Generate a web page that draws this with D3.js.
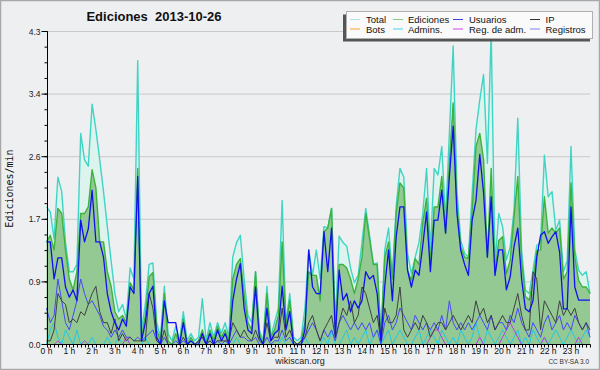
<!DOCTYPE html>
<html>
<head>
<meta charset="utf-8">
<script src="https://cdn.jsdelivr.net/npm/d3@7/dist/d3.min.js"></script>
<style>
  body { margin: 0; background: #fff; }
</style>
</head>
<body>
<div id="app"></div>
<script>
// ediciones por minuto, pasos de 10 minutos (144 puntos)
const hourLabels = d3.range(24).map(h => h + " h");
const yTicks = [0, 0.86, 1.72, 2.58, 3.44, 4.3];

const total = [
  1.89,1.82,1.45,2.30,2.10,1.40, 1.00,1.00,1.10,2.90,2.54,2.45,
  3.30,2.95,2.54,2.10,1.62,1.15, 0.70,0.45,0.55,0.35,1.05,0.90,
  3.90,0.20,0.55,1.10,1.12,0.30, 0.10,0.80,0.15,0.05,0.25,0.05,
  0.45,0.05,0.15,0.05,0.10,0.63, 0.05,0.30,0.10,0.30,0.15,0.30,
  0.10,1.20,1.40,1.50,0.90,0.40, 0.30,1.00,0.20,0.05,0.80,0.10,
  0.30,0.50,1.98,0.30,0.70,0.10, 0.05,0.10,0.50,1.30,0.95,1.30,
  0.90,1.62,1.60,1.87,0.30,1.49, 1.40,1.35,1.05,0.85,0.95,1.40,
  1.87,1.50,1.10,1.12,0.10,1.30, 1.60,0.93,1.90,2.42,2.30,1.25,
  0.97,1.20,1.40,1.80,2.42,1.30, 2.42,2.33,2.72,1.71,2.90,4.10,
  2.10,1.43,1.25,1.20,2.08,2.95, 3.36,3.71,2.49,4.30,1.10,1.80,
  1.62,1.16,1.34,1.84,3.11,1.30, 0.75,0.70,1.02,1.36,1.40,2.60,
  2.03,2.10,1.57,1.71,1.00,1.15, 2.72,1.30,1.02,0.95,1.00,0.70
];
const ediciones = [
  1.41,1.50,1.30,1.87,1.80,1.30, 0.90,0.75,1.00,1.80,1.80,1.89,
  2.40,2.15,1.41,1.41,1.00,0.80, 0.45,0.35,0.40,0.30,0.85,0.75,
  2.42,0.10,0.40,0.93,0.99,0.20, 0.05,0.70,0.05,0.00,0.15,0.00,
  0.35,0.00,0.10,0.00,0.05,0.20, 0.00,0.20,0.05,0.25,0.10,0.20,
  0.05,0.90,1.10,1.18,0.70,0.30, 0.20,1.00,0.15,0.00,0.70,0.10,
  0.20,0.40,1.41,0.25,0.61,0.05, 0.00,0.05,0.30,1.00,0.95,0.95,
  0.60,1.55,1.60,1.87,0.20,1.10, 1.10,1.05,0.90,0.70,0.90,1.20,
  1.80,1.45,1.10,1.10,0.10,1.20, 1.41,0.90,1.80,2.22,2.15,1.02,
  0.88,1.18,1.10,1.67,2.01,1.10, 1.89,1.89,2.31,1.53,2.50,3.32,
  1.90,1.34,1.20,1.18,1.84,2.72, 2.90,2.54,1.20,2.42,1.00,1.43,
  1.48,0.97,1.16,1.75,2.31,1.15, 0.66,0.61,0.86,1.29,1.30,2.03,
  1.53,1.60,1.53,1.60,0.90,1.00, 2.22,1.20,0.88,0.79,0.79,0.70
];
const usuarios = [
  1.41,1.41,0.90,1.19,1.19,0.79, 0.65,0.75,0.60,1.71,1.41,1.59,
  2.12,1.41,1.41,1.20,0.70,0.45, 0.30,0.20,0.35,0.25,0.79,0.70,
  2.31,0.05,0.30,0.70,0.80,0.10, 0.00,0.60,0.30,0.30,0.30,0.00,
  0.30,0.00,0.05,0.00,0.00,0.15, 0.00,0.15,0.00,0.20,0.05,0.15,
  0.00,0.60,0.90,1.11,0.50,0.20, 0.15,0.79,0.10,0.00,0.50,0.05,
  0.15,0.20,0.80,0.20,0.45,0.00, 0.00,0.00,0.20,1.30,0.79,0.70,
  0.70,1.55,1.00,1.60,0.10,1.02, 0.61,0.70,0.45,0.60,0.50,0.60,
  1.00,0.90,0.95,0.70,0.05,0.80, 1.30,0.60,1.48,1.89,1.89,1.02,
  0.79,1.02,0.95,1.36,1.82,1.00, 1.71,1.71,2.12,1.53,2.30,3.00,
  1.80,1.29,1.10,0.95,1.71,1.98, 2.61,2.08,1.20,2.03,0.95,1.30,
  1.30,0.75,0.93,1.34,1.60,0.90, 0.49,0.45,0.60,1.20,1.50,1.55,
  1.39,1.48,1.55,1.27,0.49,0.49, 1.89,0.79,0.61,0.61,0.61,0.61
];
const ip = [
  0.05,0.05,0.20,0.70,0.60,0.55, 0.30,0.35,0.30,0.45,0.40,0.55,
  0.70,0.80,0.45,0.30,0.30,0.15, 0.35,0.05,0.15,0.05,0.10,0.05,
  0.05,0.05,0.05,0.70,0.50,0.05, 0.00,0.20,0.00,0.00,0.00,0.00,
  0.10,0.00,0.05,0.00,0.05,0.10, 0.00,0.05,0.00,0.05,0.05,0.05,
  0.05,0.30,0.20,0.10,0.20,0.10, 0.05,0.20,0.05,0.00,0.30,0.05,
  0.10,0.10,0.50,0.10,0.20,0.05, 0.00,0.05,0.10,0.30,0.40,0.20,
  0.05,0.20,0.30,0.40,0.10,0.30, 0.50,0.40,0.60,0.30,0.40,0.79,
  0.70,0.50,0.30,0.40,0.05,0.50, 0.30,0.30,0.40,0.79,0.20,0.10,
  0.20,0.30,0.20,0.40,0.30,0.10, 0.20,0.30,0.30,0.20,0.30,0.40,
  0.30,0.20,0.30,0.40,0.30,0.60, 0.40,0.50,0.30,0.40,0.20,0.30,
  0.40,0.30,0.30,0.50,0.70,0.40, 0.20,0.20,1.00,0.90,0.20,0.60,
  0.50,0.40,0.30,0.60,0.40,0.50, 0.40,0.50,0.30,0.20,0.30,0.20
];
const admins = [
  0.00,0.20,0.30,0.10,0.00,0.20, 0.10,0.00,0.20,0.00,0.00,0.00,
  0.10,0.00,0.00,0.00,0.10,0.00, 0.00,0.10,0.00,0.00,0.00,0.00,
  0.00,0.00,0.10,0.00,0.00,0.00, 0.00,0.00,0.00,0.00,0.00,0.00,
  0.00,0.00,0.00,0.00,0.00,0.00, 0.00,0.00,0.00,0.00,0.00,0.00,
  0.00,0.00,0.10,0.00,0.00,0.00, 0.00,0.00,0.00,0.00,0.00,0.00,
  0.00,0.00,0.10,0.00,0.00,0.00, 0.00,0.00,0.10,0.00,0.00,0.00,
  0.00,0.10,0.00,0.20,0.00,0.00, 0.10,0.20,0.00,0.10,0.00,0.10,
  0.20,0.00,0.10,0.20,0.00,0.10, 0.20,0.00,0.10,0.20,0.10,0.00,
  0.00,0.10,0.20,0.00,0.10,0.20, 0.10,0.00,0.20,0.10,0.00,0.10,
  0.00,0.20,0.10,0.00,0.10,0.30, 0.10,0.00,0.20,0.10,0.00,0.10,
  0.20,0.10,0.00,0.10,0.20,0.00, 0.10,0.00,0.20,0.10,0.00,0.10,
  0.00,0.10,0.20,0.10,0.00,0.10, 0.20,0.10,0.00,0.10,0.20,0.10
];
const registros = [
  0.50,0.30,0.40,0.90,0.60,0.30, 0.20,0.40,0.60,0.90,0.70,0.55,
  0.60,0.50,0.40,0.25,0.20,0.10, 0.20,0.10,0.20,0.10,0.10,0.05,
  0.10,0.05,0.10,0.15,0.20,0.05, 0.00,0.10,0.00,0.00,0.05,0.00,
  0.05,0.00,0.00,0.00,0.05,0.10, 0.00,0.05,0.00,0.05,0.00,0.05,
  0.00,0.10,0.20,0.10,0.10,0.05, 0.05,0.10,0.00,0.00,0.10,0.00,
  0.05,0.05,0.20,0.05,0.10,0.00, 0.00,0.00,0.10,0.20,0.30,0.20,
  0.05,0.20,0.10,0.20,0.05,0.30, 0.40,0.30,0.20,0.30,0.20,0.30,
  0.20,0.30,0.10,0.20,0.00,0.30, 0.40,0.20,0.30,0.50,0.40,0.30,
  0.20,0.40,0.30,0.20,0.30,0.20, 0.30,0.20,0.40,0.20,0.60,0.30,
  0.20,0.30,0.20,0.30,0.20,0.30, 0.40,0.30,0.20,0.40,0.20,0.30,
  0.30,0.20,0.40,0.30,0.50,0.30, 0.20,0.10,0.30,0.20,0.10,0.30,
  0.40,0.20,0.30,0.40,0.20,0.30, 0.20,0.40,0.30,0.20,0.30,0.10
];
const regAdm = [
  0.00,0.00,0.00,0.05,0.00,0.00, 0.00,0.00,0.00,0.00,0.05,0.00,
  0.00,0.00,0.00,0.00,0.00,0.00, 0.00,0.00,0.00,0.10,0.00,0.00,
  0.00,0.00,0.00,0.00,0.00,0.00, 0.00,0.00,0.00,0.00,0.00,0.00,
  0.00,0.00,0.00,0.00,0.00,0.00, 0.00,0.00,0.00,0.00,0.00,0.00,
  0.00,0.00,0.00,0.00,0.00,0.00, 0.00,0.00,0.00,0.00,0.00,0.00,
  0.00,0.00,0.00,0.00,0.00,0.00, 0.00,0.00,0.00,0.00,0.00,0.00,
  0.00,0.00,0.00,0.00,0.00,0.00, 0.00,0.00,0.00,0.00,0.00,0.00,
  0.00,0.00,0.00,0.00,0.00,0.00, 0.00,0.00,0.00,0.00,0.00,0.00,
  0.00,0.00,0.00,0.00,0.00,0.10, 0.20,0.20,0.10,0.00,0.00,0.00,
  0.00,0.00,0.00,0.00,0.00,0.00, 0.10,0.00,0.00,0.00,0.00,0.00,
  0.10,0.20,0.30,0.20,0.10,0.00, 0.00,0.00,0.00,0.00,0.00,0.10,
  0.00,0.00,0.00,0.00,0.00,0.00, 0.00,0.00,0.10,0.00,0.00,0.00
];
const bots = d3.range(144).map(() => 0);

const legendItems = [
  {name: "Total", color: "#a8e8e0"}, {name: "Ediciones", color: "#80d080"},
  {name: "Usuarios", color: "#4040e0"}, {name: "IP", color: "#303030"},
  {name: "Bots", color: "#ffa030"}, {name: "Admins.", color: "#40d8e8"},
  {name: "Reg. de adm.", color: "#d040f0"}, {name: "Registros", color: "#8080f0"}
];

const width = 600;
const height = 370;

const x = d3.scaleLinear().domain([0, 143]).range([46.5, 590]);
const y = d3.scaleLinear().domain([0, 4.3]).range([344.5, 31.5]);

const svg = d3.select("#app")
  .append("svg")
  .attr("width", width)
  .attr("height", height)
  .attr("style", "display:block;font-family:'Liberation Sans',Arial,sans-serif;");

// fondo y marco
svg.append("rect")
  .attr("x", 0.5).attr("y", 0.5)
  .attr("width", width - 1).attr("height", height - 1)
  .attr("fill", "#eeeff1")
  .attr("stroke", "#a8a8a8")
  .attr("stroke-width", 1.5);

// rejilla
svg.append("g")
  .attr("stroke", "#c9c9c9")
  .selectAll("line")
  .data(yTicks.slice(1))
  .join("line")
    .attr("x1", x(0)).attr("x2", x(143))
    .attr("y1", d => y(d)).attr("y2", d => y(d));

const area = d3.area()
  .x((d, i) => x(i))
  .y0(y(0))
  .y1(d => y(d));
const line = d3.line()
  .x((d, i) => x(i))
  .y(d => y(d));

svg.append("path").datum(total)
  .attr("fill", "#dcf3ee").attr("d", area);
svg.append("path").datum(ediciones)
  .attr("fill", "#94c994").attr("d", area);

const series = [
  {data: total, color: "#40d4c4", w: 1.4},
  {data: ediciones, color: "#3db33d", w: 1.4},
  {data: bots, color: "#ffa030", w: 1},
  {data: admins, color: "#22c8e4", w: 1},
  {data: regAdm, color: "#c03ae0", w: 1},
  {data: registros, color: "#4848f8", w: 1},
  {data: ip, color: "#404040", w: 1},
  {data: usuarios, color: "#1010f0", w: 1.3}
];

svg.append("g")
  .attr("fill", "none")
  .attr("stroke-linejoin", "round")
  .selectAll("path")
  .data(series)
  .join("path")
    .attr("stroke", d => d.color)
    .attr("stroke-width", d => d.w)
    .attr("d", d => line(d.data));

// eje x
const xAxis = svg.append("g").attr("transform", `translate(0,${y(0)})`);
xAxis.append("line")
  .attr("x1", x(0) - 0.5).attr("x2", x(143) + 0.5)
  .attr("stroke", "#000");
xAxis.selectAll(".tk")
  .data(d3.range(144))
  .join("line")
    .attr("x1", d => Math.round(x(d)) + 0.5).attr("x2", d => Math.round(x(d)) + 0.5)
    .attr("y1", 0).attr("y2", 3)
    .attr("stroke", "#000");
xAxis.selectAll("text")
  .data(hourLabels)
  .join("text")
    .attr("x", (d, i) => x(i * 6))
    .attr("y", 9)
    .attr("text-anchor", "middle")
    .attr("font-size", 8.5)
    .attr("fill", "#111")
    .text(d => d);

// eje y
const yAxis = svg.append("g").attr("transform", `translate(${Math.round(x(0)) + 0.5},0)`);
yAxis.append("line")
  .attr("y1", y(4.3)).attr("y2", y(0))
  .attr("stroke", "#000");
yAxis.selectAll(".minor")
  .data(d3.range(21).map(k => k * 0.215))
  .join("line")
    .attr("x1", -3).attr("x2", 0)
    .attr("y1", d => y(d)).attr("y2", d => y(d))
    .attr("stroke", "#000");
yAxis.selectAll(".major")
  .data(yTicks)
  .join("line")
    .attr("x1", -6).attr("x2", 0)
    .attr("y1", d => y(d)).attr("y2", d => y(d))
    .attr("stroke", "#000");
yAxis.selectAll("text")
  .data(yTicks)
  .join("text")
    .attr("x", -7)
    .attr("y", d => y(d) + 3)
    .attr("text-anchor", "end")
    .attr("font-size", 8.5)
    .attr("fill", "#222")
    .text(d => d.toFixed(1));

// titulos
svg.append("text")
  .attr("x", 154).attr("y", 20.5)
  .attr("text-anchor", "middle")
  .attr("font-size", 13)
  .attr("font-weight", "bold")
  .attr("fill", "#111")
  .attr("xml:space", "preserve")
  .text("Ediciones  2013-10-26");

svg.append("text")
  .attr("transform", "translate(12.5,188.5) rotate(-90)")
  .attr("text-anchor", "middle")
  .attr("font-family", "'DejaVu Sans Mono',monospace")
  .attr("font-size", 10)
  .attr("fill", "#111")
  .text("Ediciones/min");

svg.append("text")
  .attr("x", 300).attr("y", 364)
  .attr("text-anchor", "middle")
  .attr("font-size", 9)
  .attr("fill", "#222")
  .text("wikiscan.org");

svg.append("text")
  .attr("x", 589).attr("y", 364)
  .attr("text-anchor", "end")
  .attr("font-size", 6.5)
  .attr("fill", "#333")
  .text("CC BY-SA 3.0");

// leyenda
const lg = svg.append("g");
lg.append("rect")
  .attr("x", 343).attr("y", 14.5)
  .attr("width", 247).attr("height", 27)
  .attr("fill", "#555");
lg.append("rect")
  .attr("x", 346.5).attr("y", 11.5)
  .attr("width", 246).attr("height", 27)
  .attr("fill", "#fafafa")
  .attr("stroke", "#b0b0b0");
const colX = [350, 393, 453, 530];
const textX = [366, 408, 469, 545.5];
const rowY = [19.5, 29];
lg.selectAll("g")
  .data(legendItems)
  .join("g")
    .each(function (d, i) {
      const c = i % 4, r = Math.floor(i / 4);
      const g = d3.select(this);
      g.append("line")
        .attr("x1", colX[c]).attr("x2", colX[c] + 10)
        .attr("y1", rowY[r]).attr("y2", rowY[r])
        .attr("stroke", d.color);
      g.append("text")
        .attr("x", textX[c]).attr("y", rowY[r] + 3.5)
        .attr("font-size", 9.5)
        .attr("fill", "#111")
        .text(d.name);
    });
</script>
</body>
</html>
